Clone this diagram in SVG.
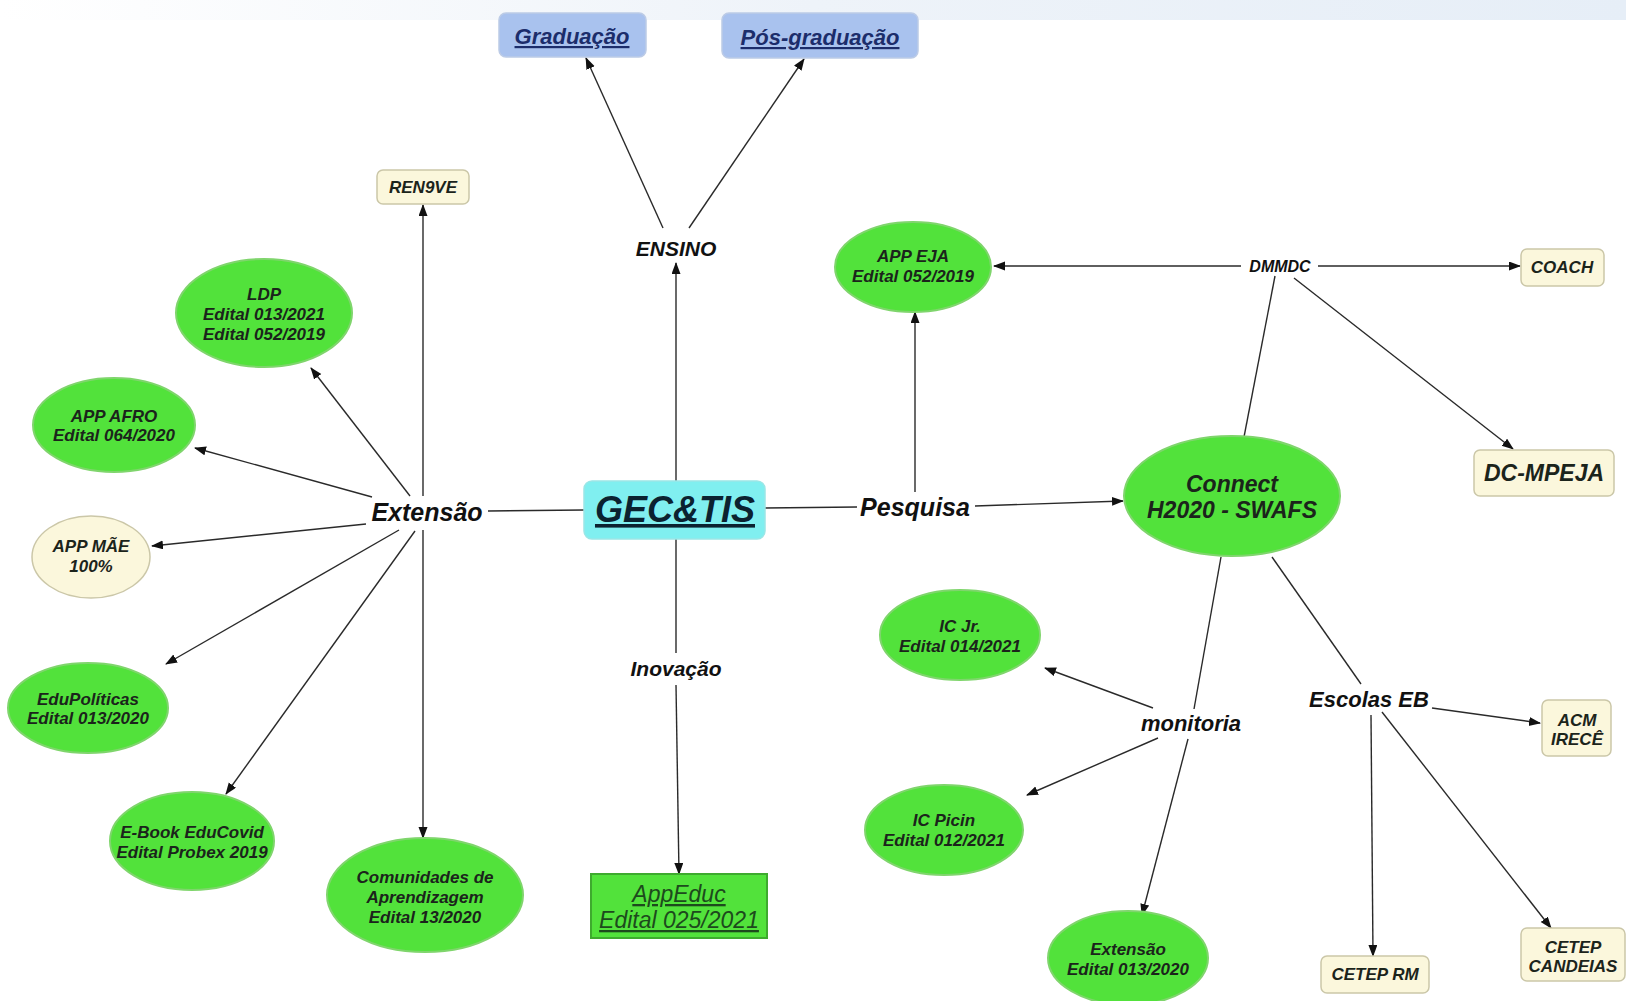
<svg xmlns="http://www.w3.org/2000/svg" width="1626" height="1001" viewBox="0 0 1626 1001">
<defs>
<marker id="arr" markerUnits="userSpaceOnUse" markerWidth="12" markerHeight="10" refX="11" refY="4.5" orient="auto">
<path d="M0,0 L12,4.5 L0,9 z" fill="#111"/>
</marker>
<linearGradient id="band" x1="0" y1="0" x2="1" y2="0">
<stop offset="0" stop-color="#ffffff"/>
<stop offset="0.5" stop-color="#eef3f9"/>
<stop offset="1" stop-color="#e6eef7"/>
</linearGradient>
</defs>
<style>
text{font-family:"Liberation Sans",Arial,sans-serif;font-weight:bold;font-style:italic;text-anchor:middle;fill:#1b241b}
.g{fill:#52e23b;stroke:#7fd56c;stroke-width:2}
.c{fill:#fbf7dc;stroke:#cbc7a8;stroke-width:1.5}
.b{fill:#a9c2ee;stroke:#bccbe6;stroke-width:1.5}
.n{font-size:17px}
.lbl{font-size:22px;fill:#111}
.ln{stroke:#2a2a2a;stroke-width:1.4;fill:none}
.a{marker-end:url(#arr)}
.u{text-decoration:underline}
</style>
<rect width="1626" height="1001" fill="#fff"/>
<rect x="0" y="0" width="1626" height="20" fill="url(#band)"/>

<g id="connectors">
<line class="ln a" x1="676" y1="481" x2="676" y2="263"/>
<line class="ln a" x1="663" y1="228" x2="586" y2="58"/>
<line class="ln a" x1="689" y1="228" x2="804" y2="59"/>
<line class="ln" x1="584" y1="510" x2="488" y2="511"/>
<line class="ln" x1="765" y1="508" x2="857" y2="507"/>
<line class="ln a" x1="975" y1="506" x2="1123" y2="501"/>
<line class="ln a" x1="915" y1="492" x2="915" y2="312"/>
<line class="ln" x1="676" y1="539" x2="676" y2="653"/>
<line class="ln a" x1="676" y1="685" x2="679" y2="874"/>
<line class="ln a" x1="423" y1="496" x2="423" y2="205"/>
<line class="ln a" x1="410" y1="496" x2="311" y2="368"/>
<line class="ln a" x1="372" y1="497" x2="195" y2="448"/>
<line class="ln a" x1="366" y1="524" x2="152" y2="546"/>
<line class="ln a" x1="399" y1="530" x2="166" y2="664"/>
<line class="ln a" x1="415" y1="531" x2="226" y2="794"/>
<line class="ln a" x1="423" y1="530" x2="423" y2="838"/>
<line class="ln a" x1="1241" y1="266" x2="994" y2="266"/>
<line class="ln a" x1="1318" y1="266" x2="1520" y2="266"/>
<line class="ln" x1="1244" y1="437" x2="1275" y2="276"/>
<line class="ln a" x1="1294" y1="278" x2="1513" y2="449"/>
<line class="ln" x1="1221" y1="557" x2="1194" y2="709"/>
<line class="ln a" x1="1188" y1="739" x2="1142" y2="915"/>
<line class="ln a" x1="1153" y1="708" x2="1045" y2="668"/>
<line class="ln a" x1="1158" y1="738" x2="1027" y2="795"/>
<line class="ln" x1="1272" y1="557" x2="1361" y2="684"/>
<line class="ln a" x1="1432" y1="708" x2="1540" y2="723"/>
<line class="ln a" x1="1371" y1="715" x2="1373" y2="956"/>
<line class="ln a" x1="1382" y1="712" x2="1551" y2="928"/>
</g>

<g id="graduacao"><rect class="b" x="499" y="13" width="147" height="44" rx="7"/><text class="u" x="572" y="44" style="font-size:22px;fill:#1c2d6b">Graduação</text></g>
<g id="posgraduacao"><rect class="b" x="722" y="13" width="196" height="45" rx="7"/><text class="u" x="820" y="45" style="font-size:22px;fill:#1c2d6b">Pós-graduação</text></g>
<g id="ensino"><text class="lbl" x="676" y="256" style="font-size:21px">ENSINO</text></g>
<g id="ren9ve"><rect class="c" x="377" y="170" width="92" height="34" rx="6"/><text class="n" x="423" y="193">REN9VE</text></g>
<g id="ldp"><ellipse class="g" cx="264" cy="313" rx="88" ry="54"/><text class="n" x="264" y="300">LDP</text><text class="n" x="264" y="320">Edital 013/2021</text><text class="n" x="264" y="340">Edital 052/2019</text></g>
<g id="appafro"><ellipse class="g" cx="114" cy="425" rx="81" ry="47"/><text class="n" x="114" y="422">APP AFRO</text><text class="n" x="114" y="441">Edital 064/2020</text></g>
<g id="appmae"><ellipse class="c" cx="91" cy="557" rx="59" ry="41"/><text class="n" x="91" y="552">APP MÃE</text><text class="n" x="91" y="572">100%</text></g>
<g id="edupoliticas"><ellipse class="g" cx="88" cy="708" rx="80" ry="45"/><text class="n" x="88" y="705">EduPolíticas</text><text class="n" x="88" y="724">Edital 013/2020</text></g>
<g id="ebook"><ellipse class="g" cx="192" cy="841" rx="82" ry="49"/><text class="n" x="192" y="838">E-Book EduCovid</text><text class="n" x="192" y="858">Edital Probex 2019</text></g>
<g id="comunidades"><ellipse class="g" cx="425" cy="895" rx="98" ry="57"/><text class="n" x="425" y="883">Comunidades de</text><text class="n" x="425" y="903">Aprendizagem</text><text class="n" x="425" y="923">Edital 13/2020</text></g>
<g id="extensao"><text class="lbl" x="427" y="521" style="font-size:25px">Extensão</text></g>
<g id="gectis"><rect x="584" y="481" width="181" height="58" rx="8" fill="#80eff0" stroke="#9ae6e6" stroke-width="1.5"/><text class="u" x="675" y="522" style="font-size:36px;fill:#0b2230">GEC&amp;TIS</text></g>
<g id="pesquisa"><text class="lbl" x="915" y="516" style="font-size:25px">Pesquisa</text></g>
<g id="inovacao"><text class="lbl" x="676" y="676" style="font-size:21px">Inovação</text></g>
<g id="appeduc"><rect x="591" y="874" width="176" height="64" fill="#52e23b" stroke="#3eaa2e" stroke-width="2"/><text class="u" x="679" y="902" style="font-size:23px;font-weight:normal;fill:#1d4a1d">AppEduc</text><text class="u" x="679" y="928" style="font-size:23px;font-weight:normal;fill:#1d4a1d">Edital 025/2021</text></g>
<g id="appeja"><ellipse class="g" cx="913" cy="267" rx="78" ry="45"/><text class="n" x="913" y="262">APP EJA</text><text class="n" x="913" y="282">Edital 052/2019</text></g>
<g id="dmmdc"><text class="lbl" x="1280" y="272" style="font-size:16px">DMMDC</text></g>
<g id="coach"><rect class="c" x="1521" y="249" width="83" height="37" rx="6"/><text class="n" x="1562" y="273">COACH</text></g>
<g id="dcmpeja"><rect class="c" x="1474" y="450" width="140" height="46" rx="6"/><text x="1544" y="481" style="font-size:23px">DC-MPEJA</text></g>
<g id="connect"><ellipse class="g" cx="1232" cy="496" rx="108" ry="60"/><text x="1232" y="492" style="font-size:23px">Connect</text><text x="1232" y="518" style="font-size:23px">H2020 - SWAFS</text></g>
<g id="icjr"><ellipse class="g" cx="960" cy="635" rx="80" ry="45"/><text class="n" x="960" y="632">IC Jr.</text><text class="n" x="960" y="652">Edital 014/2021</text></g>
<g id="icpicin"><ellipse class="g" cx="944" cy="830" rx="79" ry="45"/><text class="n" x="944" y="826">IC Picin</text><text class="n" x="944" y="846">Edital 012/2021</text></g>
<g id="monitoria"><text class="lbl" x="1191" y="731">monitoria</text></g>
<g id="extensao2"><ellipse class="g" cx="1128" cy="958" rx="80" ry="47"/><text class="n" x="1128" y="955">Extensão</text><text class="n" x="1128" y="975">Edital 013/2020</text></g>
<g id="escolaseb"><text class="lbl" x="1369" y="707">Escolas EB</text></g>
<g id="acm"><rect class="c" x="1542" y="700" width="69" height="56" rx="6"/><text class="n" x="1577" y="726">ACM</text><text class="n" x="1577" y="745">IRECÊ</text></g>
<g id="ceteprm"><rect class="c" x="1321" y="956" width="108" height="37" rx="6"/><text class="n" x="1375" y="980">CETEP RM</text></g>
<g id="cetepcandeias"><rect class="c" x="1521" y="928" width="104" height="53" rx="6"/><text class="n" x="1573" y="953">CETEP</text><text class="n" x="1573" y="972">CANDEIAS</text></g>
</svg>
